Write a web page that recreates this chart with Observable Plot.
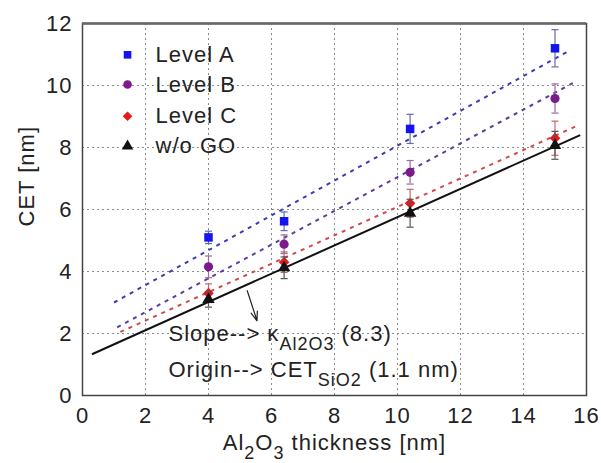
<!DOCTYPE html>
<html>
<head>
<meta charset="utf-8">
<script src="https://cdn.jsdelivr.net/npm/d3@7"></script>
<script src="https://cdn.jsdelivr.net/npm/@observablehq/plot@0.6"></script>
<style>
  html, body { margin: 0; padding: 0; background: #fff; }
  #chart { width: 601px; height: 463px; }
</style>
</head>
<body>
<div id="chart"></div>
<script>
// ---- data ----
const thickness = [4, 6.4, 10.4, 15];
const seriesNames = ["Level A", "Level B", "Level C", "w/o GO"];
const cetA = [5.1, 5.62, 8.6, 11.2];
const cetB = [4.15, 4.88, 7.2, 9.58];
const cetC = [3.3, 4.3, 6.2, 8.3];
const cetW = [3.1, 4.12, 5.88, 8.07];
const errA = [0.2, 0.3, 0.47, 0.6];
const errB = [0.35, 0.3, 0.38, 0.47];
const errC = [0.3, 0.33, 0.45, 0.55];
const errW = [0.25, 0.35, 0.45, 0.45];
// linear fit lines (end points)
const fitStartX = [1.0, 1.1, 1.2, 0.3];
const fitStartY = [3.0, 2.2, 2.05, 1.33];
const fitEndX = [15.5, 15.7, 15.7, 15.8];
const fitEndY = [11.15, 10.15, 8.7, 8.4];
const xTicks = [0, 2, 4, 6, 8, 10, 12, 14, 16];
const yTicks = [0, 2, 4, 6, 8, 10, 12];
const annotations = ["Slope--> κ_{Al2O3} (8.3)", "Origin--> CET_{SiO2} (1.1 nm)"];
const xTitle = "Al_{2}O_{3} thickness [nm]";
const yTitle = "CET [nm]";

// ---- styles ----
const markerFill = ["#1414ee", "#7a1a8c", "#e41a1a", "#111111"];
const errColor = ["#6a6aaa", "#9a6a9e", "#c46a6a", "#555555"];
const fitColor = ["#3c3cae", "#5e3c9c", "#d04a4a", "#111111"];
const symbols = ["square", "circle", "diamond2", "triangle"];
const markerR = [4.8, 4.6, 4.8, 4.6];

const values = [cetA, cetB, cetC, cetW];
const errs = [errA, errB, errC, errW];

const capSymbol = {
  draw(ctx, size) {
    const w = Math.sqrt(size) / 2;
    ctx.moveTo(-w, 0); ctx.lineTo(w, 0);
  }
};

const marks = [];
// grid
marks.push(Plot.ruleX(xTicks.slice(1, -1), {stroke: "#8a8a8a", strokeDasharray: "2,3", strokeWidth: 1}));
marks.push(Plot.ruleY(yTicks.slice(1, -1), {stroke: "#8a8a8a", strokeDasharray: "2,3", strokeWidth: 1}));

// fit lines
seriesNames.forEach((name, i) => {
  const fit = [{x1: fitStartX[i], y1: fitStartY[i], x2: fitEndX[i], y2: fitEndY[i]}];
  marks.push(Plot.link(fit, {
    x1: "x1", y1: "y1", x2: "x2", y2: "y2",
    stroke: fitColor[i], strokeWidth: 2,
    strokeDasharray: i === 3 ? null : "4,5"
  }));
});

// error bars + markers
seriesNames.forEach((name, i) => {
  const pts = thickness.map((x, j) => ({x, y: values[i][j], e: errs[i][j]}));
  marks.push(Plot.ruleX(pts, {x: "x", y1: d => d.y - d.e, y2: d => d.y + d.e, stroke: errColor[i], strokeWidth: 1.2}));
  marks.push(Plot.dot(pts, {x: "x", y: d => d.y + d.e, symbol: capSymbol, r: 4, stroke: errColor[i], strokeWidth: 1.2, fill: "none"}));
  marks.push(Plot.dot(pts, {x: "x", y: d => d.y - d.e, symbol: capSymbol, r: 4, stroke: errColor[i], strokeWidth: 1.2, fill: "none"}));
  marks.push(Plot.dot(pts, {x: "x", y: "y", symbol: symbols[i], r: markerR[i], fill: markerFill[i], stroke: "none"}));
});

// legend (placed in data space, top-left)
const legendMarkX = 1.43, legendTextX = 2.32;
const legendRows = [10.99, 10.03, 9.01, 8.04];
seriesNames.forEach((name, i) => {
  marks.push(Plot.dot([name], {x: () => legendMarkX, y: () => legendRows[i], symbol: symbols[i], r: 4.3, fill: markerFill[i], stroke: "none"}));
  marks.push(Plot.text([name], {x: () => legendTextX, y: () => legendRows[i], text: d => d, textAnchor: "start", lineAnchor: "middle", fill: "#222"}));
});

// arrow and annotations
marks.push(Plot.arrow([{}], {x1: () => 5.23, y1: () => 3.38, x2: () => 5.54, y2: () => 2.41, stroke: "#222", strokeWidth: 1.2, headLength: 12, headAngle: 40}));
marks.push(Plot.text([annotations[0]], {x: () => 2.73, y: () => 1.75, text: d => d, textAnchor: "start", lineAnchor: "bottom", fill: "#222"}));
marks.push(Plot.text([annotations[1]], {x: () => 2.73, y: () => 0.59, text: d => d, textAnchor: "start", lineAnchor: "bottom", fill: "#222"}));

// frame
marks.push(Plot.frame({stroke: "#444", strokeWidth: 1.5}));
marks.push(Plot.ruleY([12], {stroke: "#666", strokeWidth: 2.5}));

// axes
marks.push(Plot.axisX({ticks: xTicks, tickSize: 0, tickPadding: 12, label: null, fill: "#222"}));
marks.push(Plot.axisY({ticks: yTicks, tickSize: 0, tickPadding: 10, label: null, fill: "#222"}));
marks.push(Plot.text([xTitle], {frameAnchor: "bottom", text: d => d, lineAnchor: "bottom", dy: 54, fill: "#222"}));
marks.push(Plot.text([yTitle], {frameAnchor: "left", text: d => d, rotate: -90, dx: -56, dy: 17, fill: "#222"}));

const chart = Plot.plot({
  width: 601,
  height: 463,
  marginLeft: 82,
  marginRight: 15,
  marginTop: 23,
  marginBottom: 68,
  x: {domain: [0, 16]},
  y: {domain: [0, 12]},
  style: {
    fontFamily: "'Liberation Sans', Arial, sans-serif",
    fontSize: "22px",
    letterSpacing: "1px",
    color: "#222",
    background: "#fff",
    overflow: "visible"
  },
  marks
});

// subscript rendering for "_{...}" segments
const SUB_SHIFT = 9, SUB_SIZE = 18;
d3.select(chart).selectAll("text").each(function () {
  const t = this.textContent;
  if (!t.includes("_{")) return;
  const el = d3.select(this);
  el.text(null);
  let shifted = false;
  for (const p of t.split(/(_\{[^}]*\})/)) {
    if (!p) continue;
    if (p.startsWith("_{")) {
      el.append("tspan").attr("dy", SUB_SHIFT).attr("font-size", SUB_SIZE).text(p.slice(2, -1));
      shifted = true;
    } else {
      const ts = el.append("tspan").text(p);
      if (shifted) { ts.attr("dy", -SUB_SHIFT); shifted = false; }
    }
  }
});

document.getElementById("chart").appendChild(chart);
</script>
</body>
</html>
